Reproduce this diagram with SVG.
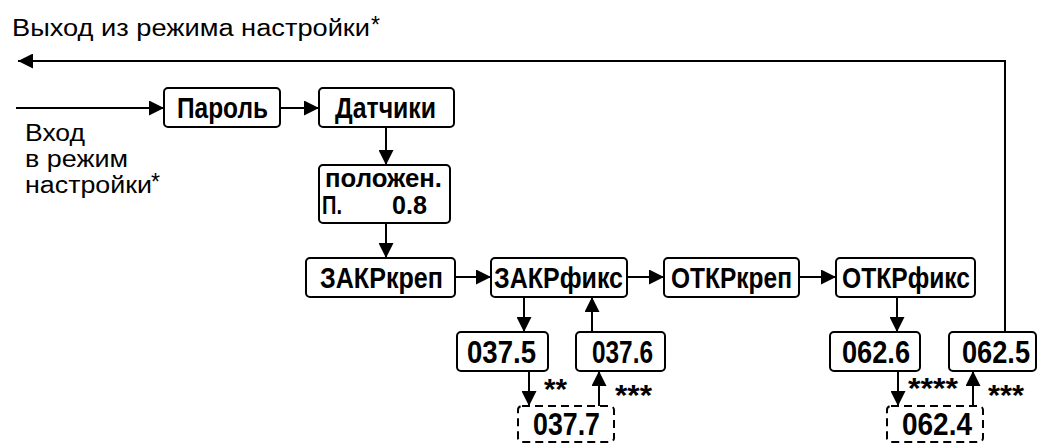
<svg xmlns="http://www.w3.org/2000/svg" width="1040" height="445" viewBox="0 0 1040 445">
<style>
.box{fill:#fff;stroke:#000;stroke-width:2}
.dash{fill:#fff;stroke:#000;stroke-width:2;stroke-dasharray:8 5}
.lbl{font-family:"Liberation Sans Narrow","Liberation Sans",Arial,sans-serif;font-weight:bold;font-size:30px;fill:#000}
.lbl2{font-family:"Liberation Sans Narrow","Liberation Sans",Arial,sans-serif;font-weight:bold;font-size:26px;fill:#000}
.num{font-family:"Liberation Sans Narrow","Liberation Sans",Arial,sans-serif;font-weight:bold;font-size:31px;fill:#000}
.note{font-family:"Liberation Sans",Arial,sans-serif;font-size:23px;fill:#000}
.star{font-family:"Liberation Sans",Arial,sans-serif;font-weight:bold;font-size:30px;fill:#000}
.ln{fill:none;stroke:#000;stroke-width:2}
</style>
<defs>
<marker id="ah" markerUnits="userSpaceOnUse" markerWidth="15" markerHeight="15" refX="15" refY="7.5" orient="auto">
<path d="M0,0 L15,7.5 L0,15 z" fill="#000"/>
</marker>
</defs>
<g id="texts">
<text class="note" x="12" y="36" textLength="358" lengthAdjust="spacingAndGlyphs">Выход из режима настройки</text>
<text class="note" x="371" y="33" font-size="30">*</text>
<text class="note" x="25" y="141" textLength="60" lengthAdjust="spacingAndGlyphs">Вход</text>
<text class="note" x="25" y="167" textLength="103" lengthAdjust="spacingAndGlyphs">в режим</text>
<text class="note" x="25" y="193" textLength="127" lengthAdjust="spacingAndGlyphs">настройки</text>
<text class="note" x="151" y="190" font-size="30">*</text>
<text class="star" x="544" y="399" textLength="23" lengthAdjust="spacingAndGlyphs">**</text>
<text class="star" x="615" y="405" textLength="37" lengthAdjust="spacingAndGlyphs">***</text>
<text class="star" x="908" y="398" textLength="50" lengthAdjust="spacingAndGlyphs">****</text>
<text class="star" x="988" y="405" textLength="36" lengthAdjust="spacingAndGlyphs">***</text>
</g>
<g id="connectors">
<path class="ln" d="M16,108 H164" marker-end="url(#ah)"/>
<path class="ln" d="M280,108 H319" marker-end="url(#ah)"/>
<path class="ln" d="M386,127 V165" marker-end="url(#ah)"/>
<path class="ln" d="M386,223 V258" marker-end="url(#ah)"/>
<path class="ln" d="M455,277 H491" marker-end="url(#ah)"/>
<path class="ln" d="M627,277 H664" marker-end="url(#ah)"/>
<path class="ln" d="M799,277 H836" marker-end="url(#ah)"/>
<path class="ln" d="M524,297 V332" marker-end="url(#ah)"/>
<path class="ln" d="M592,332 V297" marker-end="url(#ah)"/>
<path class="ln" d="M529,371 V406" marker-end="url(#ah)"/>
<path class="ln" d="M599,406 V371" marker-end="url(#ah)"/>
<path class="ln" d="M897,297 V332" marker-end="url(#ah)"/>
<path class="ln" d="M898,371 V406" marker-end="url(#ah)"/>
<path class="ln" d="M973,406 V371" marker-end="url(#ah)"/>
<path class="ln" d="M1005,332 V61 H18" marker-end="url(#ah)"/>
</g>
<g id="n-parol"><rect class="box" x="164" y="88" width="116" height="39" rx="4"/><text class="lbl" x="177" y="118" textLength="91" lengthAdjust="spacingAndGlyphs">Пароль</text></g>
<g id="n-datchiki"><rect class="box" x="319" y="88" width="135" height="39" rx="4"/><text class="lbl" x="335" y="118" textLength="101" lengthAdjust="spacingAndGlyphs">Датчики</text></g>
<g id="n-polozhen"><rect class="box" x="319" y="165" width="131" height="58" rx="4"/><text class="lbl2" x="325" y="187" textLength="117" lengthAdjust="spacingAndGlyphs">положен.</text><text class="lbl2" x="322" y="214" textLength="20" lengthAdjust="spacingAndGlyphs">П.</text><text class="lbl2" x="392" y="214" textLength="35" lengthAdjust="spacingAndGlyphs">0.8</text></g>
<g id="n-zakrkrep"><rect class="box" x="306" y="258" width="149" height="39" rx="4"/><text class="lbl" x="320" y="288" textLength="123" lengthAdjust="spacingAndGlyphs">ЗАКРкреп</text></g>
<g id="n-zakrfiks"><rect class="box" x="491" y="258" width="136" height="39" rx="4"/><text class="lbl" x="494" y="288" textLength="129" lengthAdjust="spacingAndGlyphs">ЗАКРфикс</text></g>
<g id="n-otkrkrep"><rect class="box" x="664" y="258" width="135" height="39" rx="4"/><text class="lbl" x="671" y="288" textLength="121" lengthAdjust="spacingAndGlyphs">ОТКРкреп</text></g>
<g id="n-otkrfiks"><rect class="box" x="836" y="258" width="139" height="39" rx="4"/><text class="lbl" x="842" y="288" textLength="128" lengthAdjust="spacingAndGlyphs">ОТКРфикс</text></g>
<g id="n-0375"><rect class="box" x="457" y="332" width="91" height="39" rx="4"/><text class="num" x="467" y="363" textLength="69" lengthAdjust="spacingAndGlyphs">037.5</text></g>
<g id="n-0376"><rect class="box" x="576" y="332" width="89" height="39" rx="4"/><text class="num" x="592" y="363" textLength="61" lengthAdjust="spacingAndGlyphs">037.6</text></g>
<g id="n-0377"><rect class="dash" x="518" y="406" width="96" height="36" rx="4"/><text class="num" x="533" y="435" textLength="67" lengthAdjust="spacingAndGlyphs">037.7</text></g>
<g id="n-0626"><rect class="box" x="830" y="332" width="90" height="39" rx="4"/><text class="num" x="842" y="363" textLength="68" lengthAdjust="spacingAndGlyphs">062.6</text></g>
<g id="n-0625"><rect class="box" x="949" y="332" width="87" height="39" rx="4"/><text class="num" x="962" y="363" textLength="68" lengthAdjust="spacingAndGlyphs">062.5</text></g>
<g id="n-0624"><rect class="dash" x="887" y="406" width="96" height="36" rx="4"/><text class="num" x="902" y="435" textLength="70" lengthAdjust="spacingAndGlyphs">062.4</text></g>
</svg>
